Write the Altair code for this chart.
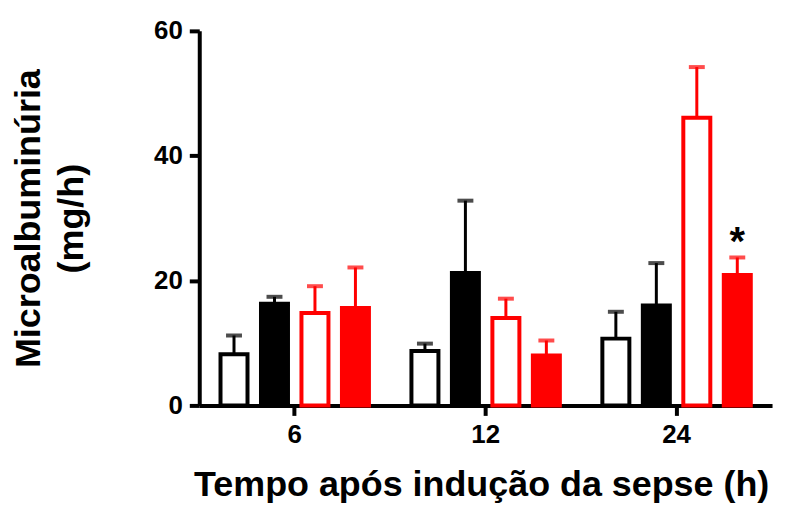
import altair as alt
import pandas as pd

times = ["6", "12", "24"]
groups = ["Grupo 1", "Grupo 2", "Grupo 3", "Grupo 4"]
stroke_colors = ["#000000", "#000000", "#ff0000", "#ff0000"]
fill_colors = ["#ffffff", "#000000", "#ffffff", "#ff0000"]

means = {
    "Grupo 1": [8.2, 8.7, 10.7],
    "Grupo 2": [16.3, 21.2, 16.0],
    "Grupo 3": [14.8, 14.0, 46.1],
    "Grupo 4": [15.6, 8.0, 20.9],
}
sems = {
    "Grupo 1": [3.0, 1.2, 4.3],
    "Grupo 2": [1.1, 11.6, 6.8],
    "Grupo 3": [4.3, 3.1, 8.1],
    "Grupo 4": [6.5, 2.4, 2.8],
}

star_time = ["24"]
star_group = ["Grupo 4"]
star_y = [24.1]
star_text = ["*"]

y_ticks = [0, 20, 40, 60]

rows = []
for g in groups:
    for i, t in enumerate(times):
        rows.append({"time": t, "group": g, "mean": means[g][i], "sem": sems[g][i]})
df = pd.DataFrame(rows)
star_df = pd.DataFrame({"time": star_time, "group": star_group, "y": star_y, "label": star_text})

FONT = "Liberation Sans"
LABEL_SIZE = 26

x_enc = alt.X(
    "time:N",
    sort=times,
    scale=alt.Scale(paddingInner=0, paddingOuter=0),
    axis=alt.Axis(
        title="Tempo após indução da sepse (h)",
        labelAngle=0,
        labelPadding=6,
        labelFontSize=LABEL_SIZE,
        titleX=283,
        titleY=90,
        titleBaseline="alphabetic",
        titleAlign="center",
        titleFontSize=36,
    ),
)
xo_enc = alt.XOffset(
    "group:N", sort=groups, scale=alt.Scale(paddingInner=0.333, paddingOuter=0.525)
)
y_scale = alt.Scale(domain=[0, 60], nice=False)
y_enc = alt.Y(
    "mean:Q",
    scale=y_scale,
    axis=alt.Axis(
        values=y_ticks,
        title=["Microalbuminúria", "(mg/h)"],
        titleX=-160,
        titleY=188,
        titleAngle=270,
        titleBaseline="alphabetic",
        titleAlign="center",
        titleLineHeight=43,
        titleFontSize=36,
        labelPadding=7,
        labelFontSize=LABEL_SIZE,
    ),
)

base = alt.Chart(df)

bars = base.mark_bar(strokeWidth=4).encode(
    x=x_enc,
    xOffset=xo_enc,
    y=y_enc,
    fill=alt.Fill("group:N", scale=alt.Scale(domain=groups, range=fill_colors), legend=None),
    stroke=alt.Stroke("group:N", scale=alt.Scale(domain=groups, range=stroke_colors), legend=None),
)

color_scale = alt.Scale(domain=groups, range=stroke_colors)

err = base.transform_calculate(upper="datum.mean + datum.sem").mark_rule(strokeWidth=3).encode(
    x=x_enc,
    xOffset=xo_enc,
    y=alt.Y("mean:Q", scale=y_scale),
    y2="upper:Q",
    color=alt.Color("group:N", scale=color_scale, legend=None),
)

caps = base.transform_calculate(upper="datum.mean + datum.sem").mark_tick(
    thickness=4, size=16, orient="horizontal"
).encode(
    x=x_enc,
    xOffset=xo_enc,
    y=alt.Y("upper:Q", scale=y_scale),
    color=alt.Color("group:N", scale=color_scale, legend=None),
)

star = alt.Chart(star_df).mark_text(
    fontSize=40, fontWeight="bold", font=FONT, baseline="alphabetic", color="black"
).encode(
    x=x_enc,
    xOffset=xo_enc,
    y=alt.Y("y:Q", scale=y_scale),
    text="label:N",
)

chart = (
    alt.layer(err, caps, bars, star)
    .properties(
        width=575,
        height=376,
        padding={"left": 192, "top": 22, "right": 10, "bottom": 98},
        autosize=alt.AutoSizeParams(type="none"),
    )
    .configure_view(stroke=None)
    .configure_axis(
        grid=False,
        domainColor="black",
        domainWidth=4,
        tickColor="black",
        tickWidth=4,
        tickSize=10,
        labelFont=FONT,
        labelFontSize=LABEL_SIZE,
        labelFontWeight="bold",
        labelColor="black",
        titleFont=FONT,
        titleFontWeight="bold",
        titleColor="black",
    )
)

chart.save("out.html", embed_options={"renderer": "svg", "actions": False})
